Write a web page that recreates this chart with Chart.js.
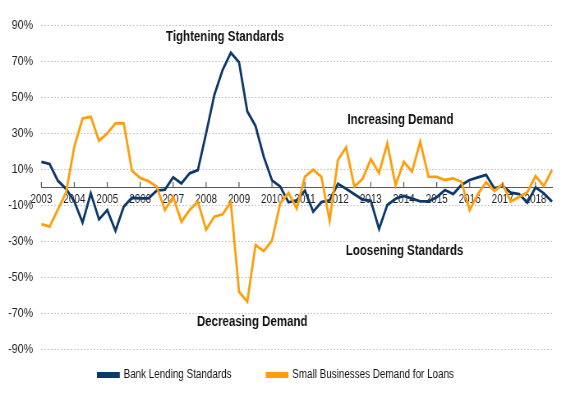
<!DOCTYPE html>
<html>
<head>
<meta charset="utf-8">
<script src="https://cdn.jsdelivr.net/npm/chart.js@4/dist/chart.umd.min.js"></script>
<style>
html,body{margin:0;padding:0;background:#fff;overflow:hidden;}
#wrap{width:700px;height:399px;transform:scaleX(0.82143);transform-origin:0 0;}
</style>
</head>
<body>
<div id="wrap"><canvas id="c" width="700" height="399" style="width:700px;height:399px"></canvas></div>
<script>
const quarters = [
 '2003Q1','2003Q2','2003Q3','2003Q4','2004Q1','2004Q2','2004Q3','2004Q4',
 '2005Q1','2005Q2','2005Q3','2005Q4','2006Q1','2006Q2','2006Q3','2006Q4',
 '2007Q1','2007Q2','2007Q3','2007Q4','2008Q1','2008Q2','2008Q3','2008Q4',
 '2009Q1','2009Q2','2009Q3','2009Q4','2010Q1','2010Q2','2010Q3','2010Q4',
 '2011Q1','2011Q2','2011Q3','2011Q4','2012Q1','2012Q2','2012Q3','2012Q4',
 '2013Q1','2013Q2','2013Q3','2013Q4','2014Q1','2014Q2','2014Q3','2014Q4',
 '2015Q1','2015Q2','2015Q3','2015Q4','2016Q1','2016Q2','2016Q3','2016Q4',
 '2017Q1','2017Q2','2017Q3','2017Q4','2018Q1','2018Q2','2018Q3'
];
const yearLabels = ['2003','2004','2005','2006','2007','2008','2009','2010','2011','2012','2013','2014','2015','2016','2017','2018'];

const bankLendingStandards = [
 14, 12.8, 3.5, -1, -8, -19.8, -3.5, -18,
 -12.8, -24.3, -10.9, -6, -6.3, -6.3, -2, -1.5,
 5.4, 2, 7.6, 9.4, 29.8, 51.1, 65, 74.6,
 69.3, 42, 33.9, 16.8, 3.7, 0.3, -8.5, -7.5,
 -2, -13.7, -8.4, -7.4, 1.8, -1, -4, -7,
 -7.7, -23.3, -10, -6.5, -5, -6.5, -8, -8,
 -5.7, -1.7, -3.9, 1.1, 3.9, 5.4, 6.7, -0.7,
 0.5, -3.1, -3.9, -8.7, -0.2, -3.5, -8.1
];
const smallBusinessDemand = [
 -20.6, -22, -12.5, -3, 22.4, 38.1, 39, 25.7,
 29.8, 35.4, 35.4, 9, 5, 3.3, 0.2, -12.8,
 -5.4, -19.3, -12.8, -8.1, -23.7, -16.5, -15.2, -8.4,
 -58.2, -63.7, -32.2, -35.6, -29.8, -9, -3.3, -11.9,
 5.7, 9.6, 5.6, -18.7, 15, 22, 0.2, 4.5,
 15.4, 7.8, 24.3, 1, 14, 8.5, 25.2, 5.7,
 5.6, 3.9, 4.8, 2.9, -12.8, -4, 2.7, -2.2,
 1.5, -8, -5.6, -2.9, 6.1, 0.5, 9.4
];
const seriesNames = ['Bank Lending Standards', 'Small Businesses Demand for Loans'];
const yTicks = [-90, -70, -50, -30, -10, 10, 30, 50, 70, 90];

const annotations = [
 {text: 'Tightening Standards', x: 22.3, y: 83.5},
 {text: 'Increasing Demand', x: 43.6, y: 37},
 {text: 'Loosening Standards', x: 44.1, y: -35.5},
 {text: 'Decreasing Demand', x: 25.6, y: -75}
];

const FONT = "'Liberation Sans', Arial, sans-serif";
const BLUE = '#0C386A';
const ORANGE = '#FF9E0A';

const extras = {
  id: 'extras',
  afterLayout(chart) {
    const l = chart.legend;
    if (l) { l.top -= 23; l.bottom -= 23; }
  },
  afterDatasetsDraw(chart) {
    const ctx = chart.ctx, xs = chart.scales.x, ys = chart.scales.y;
    const y0 = ys.getPixelForValue(0);
    ctx.save();
    ctx.strokeStyle = '#595959';
    ctx.lineWidth = 1.2;
    xs.ticks.forEach(t => {
      const px = xs.getPixelForValue(t.value);
      ctx.beginPath();
      ctx.moveTo(px, y0);
      ctx.lineTo(px, y0 - 5);
      ctx.stroke();
    });
    ctx.fillStyle = '#111';
    ctx.font = "bold 14px " + FONT;
    ctx.textAlign = 'center';
    ctx.textBaseline = 'middle';
    annotations.forEach(a => {
      ctx.fillText(a.text, xs.getPixelForValue(a.x), ys.getPixelForValue(a.y));
    });
    ctx.restore();
  }
};

new Chart(document.getElementById('c'), {
  type: 'line',
  data: {
    labels: quarters,
    datasets: [
      {label: seriesNames[0], data: bankLendingStandards, borderColor: BLUE, backgroundColor: BLUE,
       borderWidth: 2.8, pointRadius: 0, tension: 0, order: 1},
      {label: seriesNames[1], data: smallBusinessDemand, borderColor: ORANGE, backgroundColor: ORANGE,
       borderWidth: 2.8, pointRadius: 0, tension: 0, order: 0}
    ]
  },
  options: {
    responsive: false,
    animation: false,
    devicePixelRatio: 1,
    layout: {padding: {left: 0, right: 28, top: 25, bottom: -15}},
    plugins: {
      legend: {
        position: 'bottom',
        labels: {
          sort: (a, b) => a.datasetIndex - b.datasetIndex,
          boxWidth: 25, boxHeight: 3, padding: 43,
          color: '#111',
          font: {family: FONT, size: 12}
        }
      },
      tooltip: {enabled: false}
    },
    scales: {
      x: {
        type: 'category',
        position: {y: 0},
        offset: false,
        afterBuildTicks: s => { s.ticks = s.ticks.filter(t => t.value % 4 === 0); },
        grid: {display: true, drawOnChartArea: false, drawTicks: false},
        border: {display: true, color: '#595959', width: 1},
        ticks: {
          autoSkip: false, maxRotation: 0, padding: 5,
          color: '#222',
          font: {family: FONT, size: 12},
          callback: v => yearLabels[v / 4]
        }
      },
      y: {
        min: -90, max: 90,
        afterBuildTicks: s => { s.ticks = yTicks.map(v => ({value: v})); },
        grid: {color: '#c8c8c8', lineWidth: 1, drawTicks: false},
        border: {display: false, dash: [2, 2]},
        ticks: {
          padding: 10, color: '#222',
          font: {family: FONT, size: 13},
          callback: v => v + '%'
        }
      }
    }
  },
  plugins: [extras]
});
</script>
</body>
</html>
